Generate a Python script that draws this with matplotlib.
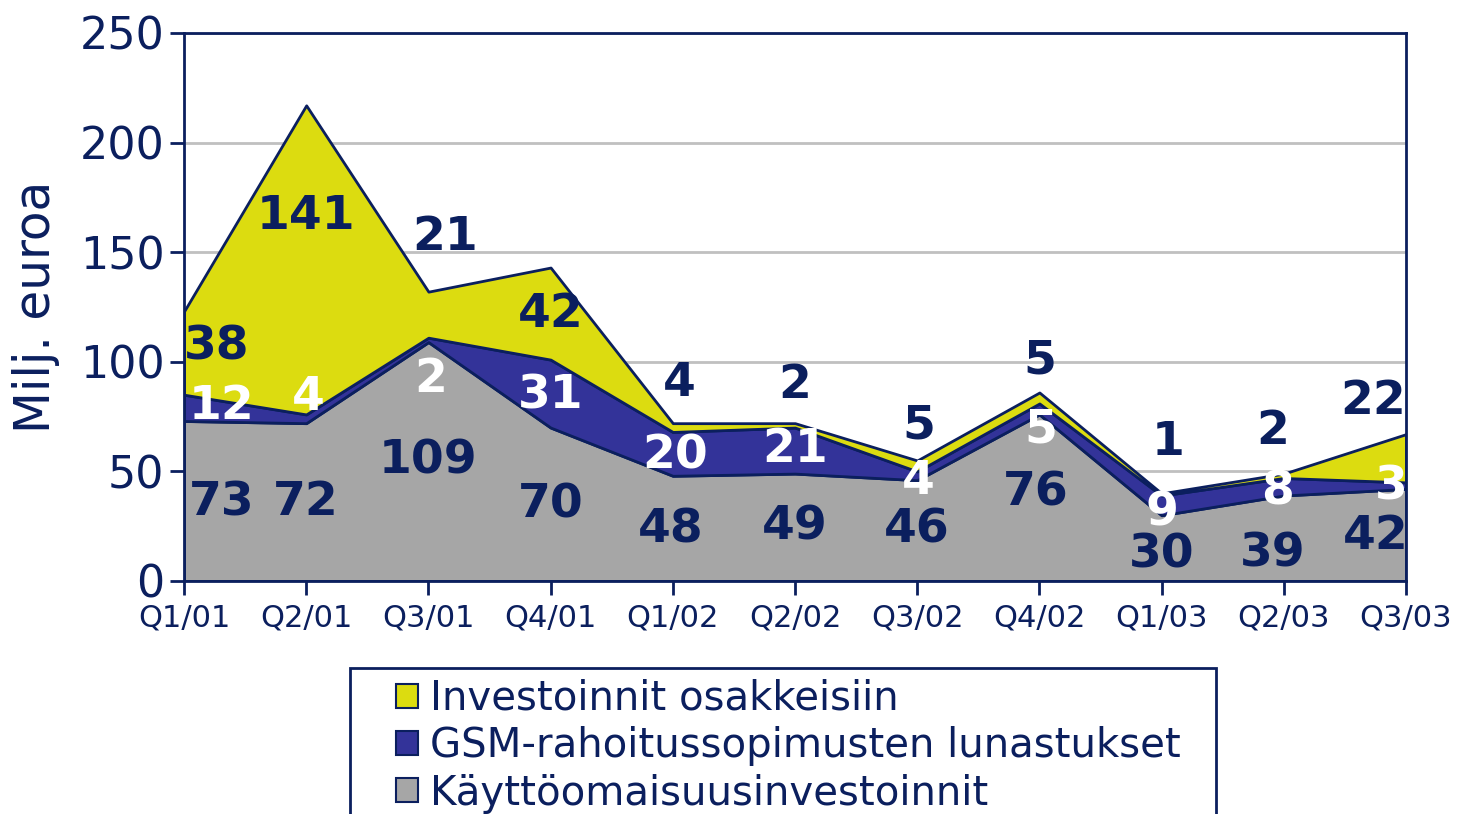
import matplotlib
matplotlib.use("Agg")
import matplotlib.pyplot as plt
from matplotlib.patches import Rectangle
import numpy as np

plt.rcParams['font.family'] = ['DejaVu Sans']

quarters = ["Q1/01", "Q2/01", "Q3/01", "Q4/01", "Q1/02", "Q2/02", "Q3/02",
            "Q4/02", "Q1/03", "Q2/03", "Q3/03"]
kayttoomaisuus = [73, 72, 109, 70, 48, 49, 46, 76, 30, 39, 42]
gsm = [12, 4, 2, 31, 20, 21, 4, 5, 9, 8, 3]
osakkeet = [38, 141, 21, 42, 4, 2, 5, 5, 1, 2, 22]
series_names = ["Käyttöomaisuusinvestoinnit",
                "GSM-rahoitussopimusten lunastukset",
                "Investoinnit osakkeisiin"]

# label placement (data units)
gray_lbl_y = [35.6, 35.6, 54.7, 34.7, 23.3, 24.6, 23.3, 40.1, 11.8, 12.3, 20.1]
gray_lbl_dx = [0.31, 0, 0, 0, -0.02, 0, 0, -0.03, 0, -0.09, -0.25]
blue_lbl_y = [79.4, 83.9, 91.7, 84.4, 57.0, 60.2, 45.2, 68.9, 31.2, 40.6, 42.9]
blue_lbl_dx = [0.31, 0.02, 0.02, 0, 0.02, 0, 0.01, 0.01, 0, -0.05, -0.12]
yel_lbl_y = [106.8, 166.1, 156.5, 121.4, 90.3, 89.4, 70.7, 100.4, 63.0, 68.0, 82.1]
yel_lbl_dx = [0.27, 0, 0.14, 0, 0.05, 0, 0.01, 0, 0.05, -0.09, -0.27]

NAVY = "#0B1F5E"
YELLOW = "#DCDC10"
BLUE = "#333399"
GRAY = "#A6A6A6"

W, H = 1457, 814
fig = plt.figure(figsize=(W/100, H/100), dpi=100)
ax = fig.add_axes([184/W, 1-581/H, (1406-184)/W, (581-33)/H])

x = np.arange(len(quarters))
polys = ax.stackplot(x, kayttoomaisuus, gsm, osakkeet,
                     colors=[GRAY, BLUE, YELLOW], edgecolor=NAVY,
                     linewidth=2, labels=series_names, zorder=2)

ax.set_xlim(0, len(quarters)-1)
ax.set_ylim(0, 250)
ax.set_yticks([0, 50, 100, 150, 200, 250])
ax.set_xticks(x)
ax.set_xticklabels(quarters)
ax.yaxis.grid(True, color="#C0C0C0", linewidth=2, zorder=0)
ax.set_axisbelow(True)
for s in ax.spines.values():
    s.set_color(NAVY)
    s.set_linewidth(2)
    s.set_zorder(5)
ax.tick_params(axis='y', colors=NAVY, labelsize=32, length=10, width=2, pad=4)
ax.tick_params(axis='x', colors=NAVY, labelsize=22, length=10, width=2, pad=6)
ax.set_ylabel("Milj. euroa", fontsize=35, color=NAVY, labelpad=14)

lbl_kw = dict(ha='center', va='center', fontsize=34, fontweight='bold', zorder=4)
for i in range(len(quarters)):
    ax.text(x[i] + gray_lbl_dx[i], gray_lbl_y[i], str(kayttoomaisuus[i]), color=NAVY, **lbl_kw)
    ax.text(x[i] + blue_lbl_dx[i], blue_lbl_y[i], str(gsm[i]), color="white", **lbl_kw)
    ax.text(x[i] + yel_lbl_dx[i], yel_lbl_y[i], str(osakkeet[i]), color=NAVY, **lbl_kw)

# legend frame (extends past the bottom edge, as in the original)
fig.patches.append(Rectangle((350/W, -0.05), (1216-350)/W, 0.05 + 1-668/H,
                             transform=fig.transFigure, facecolor='white',
                             edgecolor=NAVY, linewidth=2, zorder=1))

handles, labels = ax.get_legend_handles_labels()
leg = fig.legend(handles[::-1], labels[::-1],
                 loc='upper left',
                 bbox_to_anchor=(396/W, 1-679/H),
                 fontsize=29, frameon=False,
                 handlelength=0.55, handleheight=0.55, handletextpad=0.3,
                 labelspacing=0.18, borderpad=0, borderaxespad=0,
                 labelcolor=NAVY)
leg.set_zorder(3)
for h in leg.legend_handles:
    h.set_edgecolor(NAVY)
    h.set_linewidth(1.5)

fig.savefig("out.png", dpi=100)
